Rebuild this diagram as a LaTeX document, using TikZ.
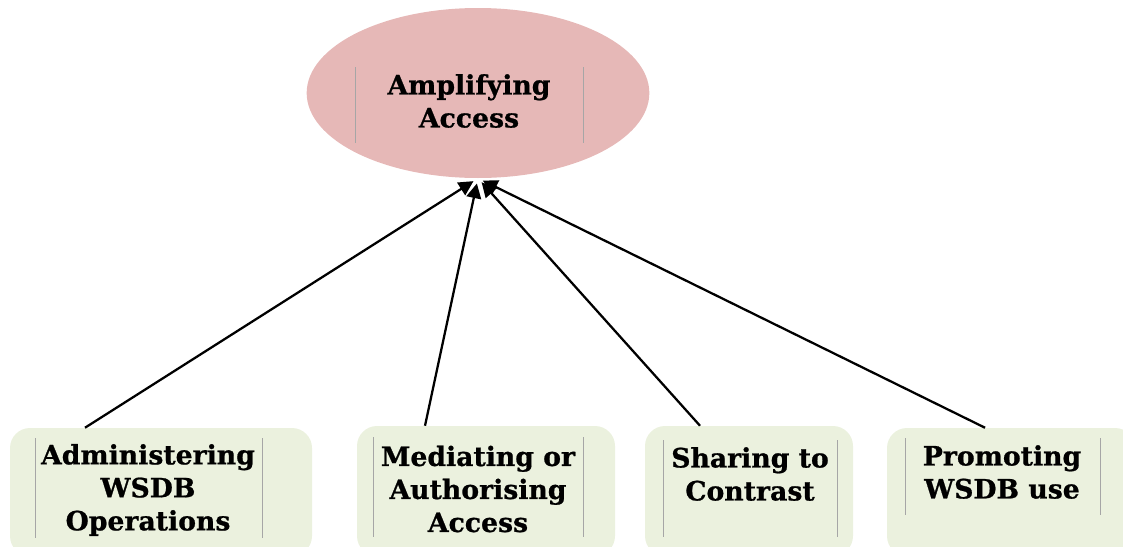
\documentclass[tikz,border=0pt]{standalone}
\usepackage{fontspec}
\setmainfont{DejaVu Serif}[BoldFeatures={FakeBold=0.8}]
\usetikzlibrary{arrows.meta,shapes.geometric}
\definecolor{ovalfill}{HTML}{E6B8B7}
\definecolor{boxfill}{HTML}{EBF1DE}
\definecolor{rule}{HTML}{A6A6A6}
\tikzset{
  oval/.style={ellipse,fill=ovalfill,minimum width=257pt,minimum height=127.5pt,inner sep=0pt},
  leaf/.style={rounded corners=15pt,fill=boxfill,inner sep=0pt},
  lbl/.style={align=center,font=\bfseries\fontsize{20}{24.75}\selectfont,inner sep=0pt},
  frame/.style={draw=rule,line width=0.6pt},
  link/.style={line width=1.7pt,-{Triangle[length=11pt,width=11pt]},shorten >=4pt}
}
\begin{document}
\begin{tikzpicture}[x=0.75pt,y=-0.75pt]
\useasboundingbox (0,0) rectangle (1123,546);
\clip (0,0) rectangle (1123,546);
% central goal
\node[oval] (amp) at (478,93) {};
\node[lbl] (ampt) at (469,101) {Amplifying\\Access};
\draw[frame] (355,67) -- (355,143);
\draw[frame] (583,67) -- (583,143);
% contributing activities
\node[leaf,minimum width=226.5pt,minimum height=96pt] (b1) at (161,492) {};
\node[leaf,minimum width=193.5pt,minimum height=97.5pt] (b2) at (486,491) {};
\node[leaf,minimum width=156pt,minimum height=97.5pt] (b3) at (749,491) {};
\node[leaf,minimum width=186pt,minimum height=96pt] (b4) at (1011,492) {};
\node[lbl] (t1) at (148,490) {Administering\\WSDB\\Operations};
\node[lbl] (t2) at (478,489) {Mediating or\\Authorising\\Access};
\node[lbl] (t3) at (750,474) {Sharing to\\Contrast};
\node[lbl] (t4) at (1002,472) {Promoting\\WSDB use};
\draw[frame] (35,438) -- (35,538);   \draw[frame] (262,438) -- (262,538);
\draw[frame] (373,437) -- (373,537); \draw[frame] (583,437) -- (583,537);
\draw[frame] (663,440) -- (663,537); \draw[frame] (837,440) -- (837,537);
\draw[frame] (905,438) -- (905,515); \draw[frame] (1100,438) -- (1100,515);
% links
\draw[link] ([xshift=-57pt]b1.north) -- (amp.south);
\draw[link] ([xshift=-45.75pt]b2.north) -- (amp.south);
\draw[link] ([xshift=-36.75pt]b3.north) -- (amp.south);
\draw[link] ([xshift=-19.5pt]b4.north) -- (amp.south);
\end{tikzpicture}
\end{document}
